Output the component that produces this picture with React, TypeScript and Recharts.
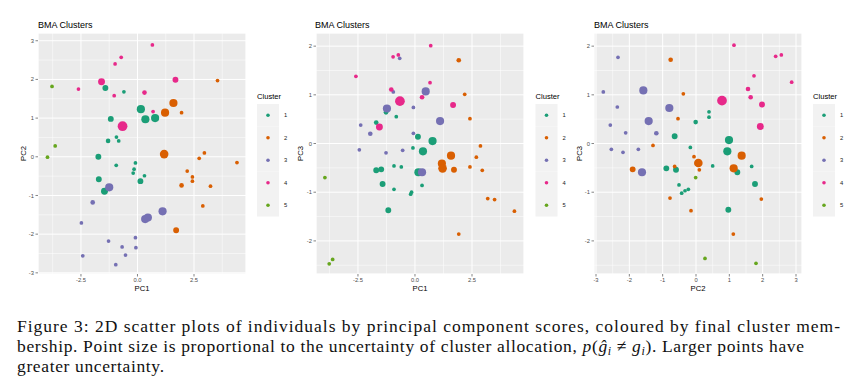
import React from 'react';
import { ScatterChart, Scatter, XAxis, YAxis, ZAxis, CartesianGrid } from 'recharts';

// Cluster labels and Dark2 colours
const clusters = ['1', '2', '3', '4', '5'];
const clusterColors = ['#1B9E77', '#D95F02', '#7570B3', '#E7298A', '#66A61E'];

const S = 0.02, SM = 0.06, M = 0.13, ML = 0.2, L = 0.3, XL = 0.45;

type Pt = [number, number, number, number]; // x, y, cluster, uncertainty

// Panel 1: PC1 vs PC2
const pc1pc2: Pt[] = [
  [-1.42, 1.78, 1, M], [-0.60, 1.68, 1, S], [0.15, 1.23, 1, L], [0.35, 0.97, 1, L], [0.78, 1.00, 1, L],
  [-1.18, 0.98, 1, M], [-0.93, 0.51, 1, S], [-1.30, 0.41, 1, SM], [-0.83, 0.41, 1, S], [-1.73, 0.00, 1, M],
  [-0.94, -0.22, 1, S], [-0.09, -0.16, 1, S], [-0.15, -0.32, 1, S], [-0.19, -0.42, 1, S], [0.31, -0.49, 1, S],
  [0.13, -0.63, 1, M], [-1.71, -0.58, 1, M], [-1.46, -0.89, 1, ML],
  [1.59, 1.39, 2, L], [1.22, 1.14, 2, L], [1.95, 1.14, 2, S], [1.18, 0.07, 2, 0.34], [2.96, 0.10, 2, S],
  [2.73, -0.04, 2, S], [4.40, -0.15, 2, S], [2.20, -0.37, 2, S], [2.43, -0.52, 2, S], [2.43, -0.63, 2, S],
  [1.95, -0.74, 2, SM], [3.23, -0.76, 2, S], [2.89, -1.27, 2, S], [1.71, -1.90, 2, M], [3.54, 1.97, 2, S],
  [-1.25, -0.79, 3, L], [-1.98, -1.18, 3, SM], [1.11, -1.41, 3, L], [0.34, -1.61, 3, L], [0.46, -1.57, 3, L],
  [-2.48, -1.71, 3, S], [-1.28, -2.18, 3, S], [-0.09, -2.09, 3, S], [-0.68, -2.33, 3, S], [-0.07, -2.35, 3, S],
  [-0.53, -2.54, 3, S], [-2.42, -2.56, 3, S], [-0.96, -2.79, 3, S],
  [0.66, 2.89, 4, S], [-0.72, 2.57, 4, S], [-0.99, 2.40, 4, S], [-1.59, 1.94, 4, ML], [1.68, 1.99, 4, M],
  [-2.61, 1.75, 4, S], [-1.03, 1.58, 4, S], [0.31, 1.66, 4, SM], [0.69, 1.17, 4, S], [-0.66, 0.79, 4, XL],
  [-3.78, 1.82, 5, S], [-3.64, 0.28, 5, S], [-3.98, -0.01, 5, S],
];

// Panel 2: PC1 vs PC3
const pc1pc3: Pt[] = [
  [-1.70, 0.43, 1, SM], [-1.27, 0.64, 1, SM], [-0.82, 0.55, 1, S], [0.13, 0.14, 1, M], [0.77, 0.05, 1, L],
  [0.35, -0.16, 1, L], [-0.09, -0.09, 1, S], [-1.70, -0.55, 1, M], [-1.48, -0.53, 1, M], [-0.92, -0.46, 1, S],
  [-0.60, -0.48, 1, S], [0.15, -0.59, 1, L], [-1.42, -0.83, 1, M], [-0.92, -0.94, 1, S], [-0.15, -1.00, 1, S],
  [-0.19, -1.04, 1, S], [0.31, -0.86, 1, S], [-1.17, -1.37, 1, M],
  [1.92, 1.71, 2, SM], [2.18, 1.01, 2, S], [2.41, 0.51, 2, S], [2.87, -0.05, 2, S], [2.69, -0.28, 2, S],
  [2.41, -0.48, 2, S], [2.95, -0.55, 2, S], [1.58, -0.25, 2, L], [1.18, -0.41, 2, L], [1.21, -0.51, 2, 0.34],
  [1.71, -0.54, 2, M], [3.19, -1.13, 2, S], [3.49, -1.15, 2, S], [4.36, -1.39, 2, S], [1.92, -1.86, 2, S],
  [0.47, 1.07, 3, L], [-1.23, 0.72, 3, L], [1.10, 0.46, 3, L], [-0.07, 0.74, 3, S], [-2.38, 0.38, 3, S],
  [-1.96, 0.20, 3, SM], [-0.07, 0.21, 3, S], [-2.44, -0.13, 3, S], [-1.27, -0.19, 3, S], [-0.54, -0.14, 3, S],
  [0.31, -0.59, 3, L], [-0.67, 1.75, 3, S], [-0.95, 1.06, 3, S],
  [0.69, 2.01, 4, S], [-0.96, 1.78, 4, S], [-0.73, 1.82, 4, S], [-2.59, 1.38, 4, S], [0.66, 1.25, 4, S],
  [-1.04, 1.11, 4, SM], [-0.66, 0.87, 4, XL], [0.31, 0.95, 4, SM], [1.67, 0.79, 4, M], [-1.56, 0.34, 4, ML],
  [-3.95, -0.70, 5, S], [-3.61, -2.38, 5, S], [-3.76, -2.47, 5, S],
];

// Panel 3: PC2 vs PC3
const pc2pc3: Pt[] = [
  [0.39, 0.65, 1, S], [0.39, 0.54, 1, S], [-0.01, 0.44, 1, SM], [-0.64, 0.15, 1, M], [0.99, 0.07, 1, L],
  [-0.17, -0.08, 1, S], [0.94, -0.16, 1, L], [0.50, -0.46, 1, S], [-0.89, -0.51, 1, M], [-0.60, -0.54, 1, M],
  [1.24, -0.59, 1, M], [1.67, -0.47, 1, S], [-0.51, -0.85, 1, S], [-0.23, -0.94, 1, S], [-0.33, -0.97, 1, S],
  [-0.43, -1.02, 1, S], [1.77, -0.83, 1, M], [0.97, -1.36, 1, M],
  [-0.76, 1.72, 2, SM], [-0.38, 1.02, 2, S], [-0.54, 0.51, 2, S], [-1.29, -0.04, 2, S], [-0.06, -0.27, 2, S],
  [0.07, -0.40, 2, 0.34], [0.10, -0.54, 2, S], [1.37, -0.25, 2, L], [1.13, -0.51, 2, L], [-1.90, -0.53, 2, M],
  [-0.64, -0.47, 2, S], [-0.78, -1.12, 2, S], [1.96, -1.14, 2, S], [-0.15, -1.38, 2, S], [1.12, -1.86, 2, S],
  [-2.34, 1.77, 3, S], [-2.78, 1.06, 3, S], [-1.58, 1.09, 3, L], [-2.36, 0.75, 3, S], [-0.80, 0.73, 3, L],
  [-1.42, 0.46, 3, L], [-2.57, 0.38, 3, S], [-2.11, 0.22, 3, S], [-1.19, 0.21, 3, SM], [-2.54, -0.12, 3, S],
  [-2.19, -0.18, 3, S], [-1.73, -0.12, 3, S], [-1.62, -0.59, 3, L],
  [1.14, 2.02, 4, S], [2.39, 1.79, 4, S], [2.56, 1.82, 4, S], [1.74, 1.39, 4, S], [2.87, 1.26, 4, S],
  [1.56, 1.12, 4, SM], [1.64, 0.95, 4, SM], [0.78, 0.88, 4, XL], [1.98, 0.80, 4, M], [1.93, 0.35, 4, ML],
  [0.27, -2.36, 5, S], [1.80, -2.46, 5, S], [-0.01, -0.70, 5, S],
];

// Tick positions
const pc1Major = [-2.5, 0, 2.5];
const pc1Minor = [-3.75, -1.25, 1.25, 3.75];
const pc2Major = [-3, -2, -1, 0, 1, 2, 3];
const pc2Minor = [-2.5, -1.5, -0.5, 0.5, 1.5, 2.5];
const pc3Major = [-2, -1, 0, 1, 2];
const pc3Minor = [-2.5, -1.5, -0.5, 0.5, 1.5];

const panelTitle = 'BMA Clusters';
const legendTitle = 'Cluster';

const captionLines = [
  'Figure 3: 2D scatter plots of individuals by principal component scores, coloured by final cluster mem-',
  'bership. Point size is proportional to the uncertainty of cluster allocation, ',
  'greater uncertainty.',
];

const SANS = "'Liberation Sans', Arial, sans-serif";
const SERIF = "'Liberation Serif', 'Times New Roman', Times, serif";
const tickStyle = { fill: '#4D4D4D', fontSize: 5.8, fontFamily: SANS };
const tickLineStyle = { stroke: '#333333', strokeWidth: 0.6 };

type PanelProps = {
  left: number; width: number; points: Pt[];
  xDomain: [number, number]; yDomain: [number, number];
  xMajor: number[]; xMinor: number[]; yMajor: number[]; yMinor: number[];
  xFmt: (v: number) => string; yAxisWidth: number; marginLeft: number; marginRight: number;
};

function Panel(p: PanelProps) {
  const byCluster = clusters.map((_, i) =>
    p.points.filter((q) => q[2] === i + 1).map((q) => ({ x: q[0], y: q[1], u: q[3] }))
  );
  return (
    <div style={{ position: 'absolute', left: p.left, top: 0 }}>
      <ScatterChart
        width={p.width}
        height={300}
        margin={{ top: 33, right: p.marginRight, bottom: 0, left: p.marginLeft }}
      >
        <XAxis xAxisId="minor" type="number" dataKey="x" domain={p.xDomain} ticks={p.xMinor} allowDataOverflow hide />
        <YAxis yAxisId="minor" type="number" dataKey="y" domain={p.yDomain} ticks={p.yMinor} allowDataOverflow hide />
        <CartesianGrid xAxisId="minor" yAxisId="minor" stroke="#FFFFFF" strokeWidth={0.5} fill="#EBEBEB" fillOpacity={1} />
        <CartesianGrid stroke="#FFFFFF" strokeWidth={1} />
        <XAxis
          type="number" dataKey="x" domain={p.xDomain} ticks={p.xMajor} allowDataOverflow
          height={26} axisLine={false} tickSize={2.5} tickMargin={1} tick={tickStyle} tickLine={tickLineStyle}
          tickFormatter={p.xFmt} interval={0}
        />
        <YAxis
          type="number" dataKey="y" domain={p.yDomain} ticks={p.yMajor} allowDataOverflow
          width={p.yAxisWidth} axisLine={false} tickSize={2.5} tickMargin={1.5} tick={tickStyle} tickLine={tickLineStyle}
          tickFormatter={(v: number) => String(v)} interval={0}
        />
        <ZAxis type="number" dataKey="u" domain={[0, 0.5]} range={[8, 82]} />
        {byCluster.map((d, i) => (
          <Scatter key={clusters[i]} name={clusters[i]} data={d} fill={clusterColors[i]} isAnimationActive={false} />
        ))}
      </ScatterChart>
    </div>
  );
}

function LegendBlock({ x }: { x: number }) {
  return (
    <g>
      <text x={x} y={99} fontSize={7.6} style={{ fontFamily: SANS }} fill="#000">{legendTitle}</text>
      {clusters.map((c, i) => (
        <g key={c}>
          <rect x={x} y={104 + i * 22.5} width={22} height={22.5} fill="#F2F2F2" />
          <circle cx={x + 11} cy={104 + i * 22.5 + 11.25} r={1.8} fill={clusterColors[i]} />
          <text x={x + 27} y={104 + i * 22.5 + 13.3} fontSize={5.8} style={{ fontFamily: SANS }} fill="#1A1A1A">{c}</text>
        </g>
      ))}
    </g>
  );
}

export default function App() {
  const fmt1 = (v: number) => v.toFixed(1);
  const fmt0 = (v: number) => String(v);
  const t = { fontFamily: SANS };
  return (
    <div style={{ position: 'absolute', left: 0, top: 0, width: 860, height: 391, background: '#FFFFFF', overflow: 'hidden' }}>
      <Panel left={0} width={285} points={pc1pc2} xDomain={[-4.4, 4.8]} yDomain={[-3.03, 3.2]}
        xMajor={pc1Major} xMinor={pc1Minor} yMajor={pc2Major} yMinor={pc2Minor}
        xFmt={fmt1} yAxisWidth={30} marginLeft={8} marginRight={39} />
      <Panel left={285} width={290} points={pc1pc3} xDomain={[-4.34, 4.78]} yDomain={[-2.68, 2.27]}
        xMajor={pc1Major} xMinor={pc1Minor} yMajor={pc3Major} yMinor={pc3Minor}
        xFmt={fmt1} yAxisWidth={20} marginLeft={11} marginRight={51} />
      <Panel left={565} width={295} points={pc2pc3} xDomain={[-3.06, 3.18]} yDomain={[-2.68, 2.27]}
        xMajor={pc2Major} xMinor={pc2Minor} yMajor={pc3Major} yMinor={pc3Minor}
        xFmt={fmt0} yAxisWidth={20} marginLeft={9} marginRight={58} />
      <svg width={860} height={391} style={{ position: 'absolute', left: 0, top: 0, pointerEvents: 'none' }}>
        <g>
          <text x={38} y={28} fontSize={9} fill="#000" style={t}>{panelTitle}</text>
          <text x={315} y={28} fontSize={9} fill="#000" style={t}>{panelTitle}</text>
          <text x={594} y={28} fontSize={9} fill="#000" style={t}>{panelTitle}</text>
          <text x={142} y={291} fontSize={7.7} fill="#000" textAnchor="middle" style={t}>PC1</text>
          <text x={420} y={291} fontSize={7.7} fill="#000" textAnchor="middle" style={t}>PC1</text>
          <text x={698} y={291} fontSize={7.7} fill="#000" textAnchor="middle" style={t}>PC2</text>
          <text x={26} y={153.5} fontSize={7.7} fill="#000" textAnchor="middle" style={t} transform="rotate(-90 26 153.5)">PC2</text>
          <text x={303} y={153.5} fontSize={7.7} fill="#000" textAnchor="middle" style={t} transform="rotate(-90 303 153.5)">PC3</text>
          <text x={581.5} y={153.5} fontSize={7.7} fill="#000" textAnchor="middle" style={t} transform="rotate(-90 581.5 153.5)">PC3</text>
        </g>
        <LegendBlock x={257} />
        <LegendBlock x={535.5} />
        <LegendBlock x={813} />
        <g style={{ fontFamily: SERIF, fontSize: 17.5 }} fill="#111">
          <text x={17} y={331.5} textLength={823} lengthAdjust="spacing">{captionLines[0]}</text>
          <text x={17} y={351.5} textLength={787} lengthAdjust="spacing">
            {captionLines[1]}
            <tspan fontStyle="italic">p</tspan>
            <tspan>(</tspan>
            <tspan fontStyle="italic">ĝ</tspan>
            <tspan fontStyle="italic" style={{ fontSize: 12 }} dy={3}>i</tspan>
            <tspan dy={-3}> ≠ </tspan>
            <tspan fontStyle="italic">g</tspan>
            <tspan fontStyle="italic" style={{ fontSize: 12 }} dy={3}>i</tspan>
            <tspan dy={-3}>). Larger points have</tspan>
          </text>
          <text x={17} y={371.5} textLength={147} lengthAdjust="spacing">{captionLines[2]}</text>
        </g>
      </svg>
    </div>
  );
}
